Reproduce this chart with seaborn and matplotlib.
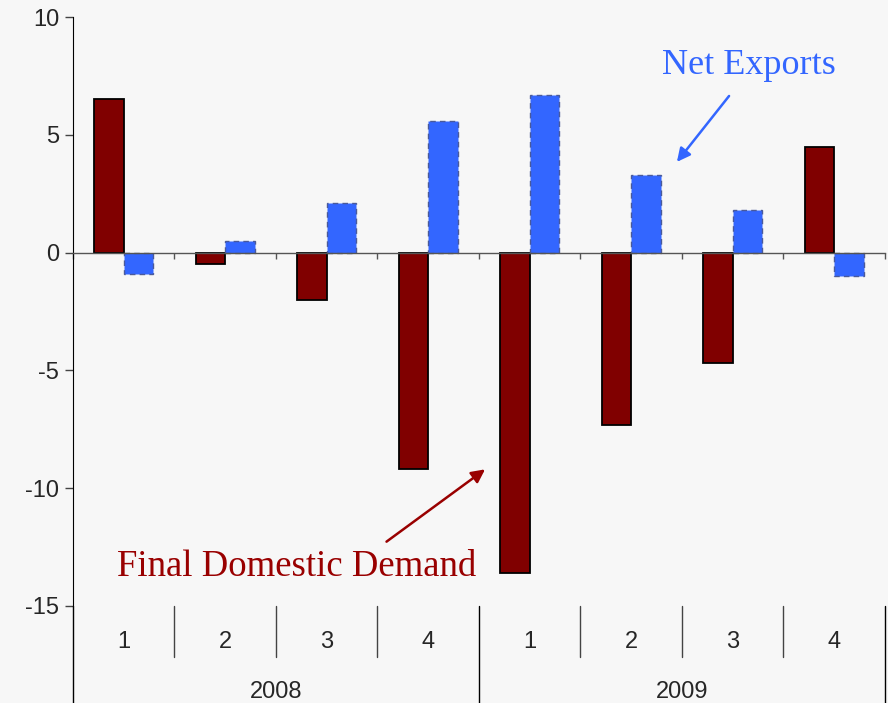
import numpy as np
import pandas as pd
import seaborn as sns
import matplotlib.pyplot as plt

# data (percent, quarterly contributions)
years = ["2008", "2009"]
quarters = ["1", "2", "3", "4"]
series = ["Final Domestic Demand", "Net Exports"]
domestic_demand = [6.5, -0.5, -2.0, -9.2, -13.6, -7.3, -4.7, 4.5]
net_exports = [-0.9, 0.5, 2.1, 5.6, 6.7, 3.3, 1.8, -1.0]

periods = [f"{y} Q{q}" for y in years for q in quarters]
df = pd.DataFrame({
    "Period": periods * 2,
    "Series": [series[0]] * 8 + [series[1]] * 8,
    "Value": domestic_demand + net_exports,
})

bg = "#f7f7f7"
red = "#800000"
blue = "#3366ff"

sns.set_style("white")
plt.rcParams["font.family"] = ["Liberation Sans", "DejaVu Sans"]

fig = plt.figure(figsize=(8.88, 7.03), dpi=100, facecolor=bg)
ax = fig.add_axes([0.0822, 0.138, 0.9144, 0.8378])
ax.set_facecolor(bg)

sns.barplot(data=df, x="Period", y="Value", hue="Series", order=periods,
            palette={series[0]: red, series[1]: blue}, width=0.58,
            saturation=1, legend=False, ax=ax)

# bar edges: solid black for demand, dashed for exports
for bar in ax.containers[0]:
    bar.set_edgecolor("black")
    bar.set_linewidth(1.3)
for bar in ax.containers[1]:
    bar.set_edgecolor("#4a5a9a")
    bar.set_linestyle((0, (4, 3)))
    bar.set_linewidth(1.0)

ax.set_xlim(-0.5, 7.5)
ax.set_ylim(-15, 10)
ax.set_yticks([-15, -10, -5, 0, 5, 10])
ax.set_yticklabels(["-15", "-10", "-5", "0", "5", "10"], fontsize=17)
ax.tick_params(axis="y", direction="out", length=6, width=1, color="#444444", left=True, pad=4)
ax.set_xlabel("")
ax.set_ylabel("")

# x axis on the zero line with ticks at the category boundaries
for side in ["top", "right"]:
    ax.spines[side].set_visible(False)
ax.spines["left"].set_color("black")
ax.spines["bottom"].set_position(("data", 0))
ax.spines["bottom"].set_color("#555555")
ax.spines["bottom"].set_linewidth(1.0)
ax.set_xticks(np.arange(-0.5, 8, 1))
ax.set_xticklabels([])
ax.tick_params(axis="x", direction="out", length=4, width=1, color="#555555", bottom=True)

# two-level category labels below the plot
xt = ax.get_xaxis_transform()
for i, p in enumerate(periods):
    ax.text(i, -0.061, p.split("Q")[1], transform=xt, ha="center", va="center", fontsize=17)
for k in range(1, 8):
    if k % 4 != 0:
        ax.plot([k - 0.5, k - 0.5], [0, -0.087], transform=xt, color="#444444", lw=1, clip_on=False)
for k in [0, 4, 8]:
    ax.plot([k - 0.5, k - 0.5], [0, -0.17], transform=xt, color="black", lw=1, clip_on=False)
for j, y in enumerate(years):
    ax.text(j * 4 + 1.5, -0.146, y, transform=xt, ha="center", va="center", fontsize=17)

# annotations
ax.annotate("Net Exports", xy=(5.45, 3.85), xytext=(6.16, 7.95),
            fontsize=26, family="Liberation Serif", color=blue, ha="center", va="center",
            arrowprops=dict(arrowstyle="-|>", color=blue, lw=1.8, mutation_scale=20,
                            shrinkA=10, shrinkB=0, relpos=(0.45, 0.0)))
ax.annotate("Final Domestic Demand", xy=(3.56, -9.2), xytext=(1.7, -13.35),
            fontsize=26.5, family="Liberation Serif", color="#990000", ha="center", va="center",
            arrowprops=dict(arrowstyle="-|>", color="#990000", lw=1.8, mutation_scale=20,
                            shrinkA=6, shrinkB=0, relpos=(0.72, 1.0)))

fig.savefig("out.png", dpi=100, facecolor=bg)
